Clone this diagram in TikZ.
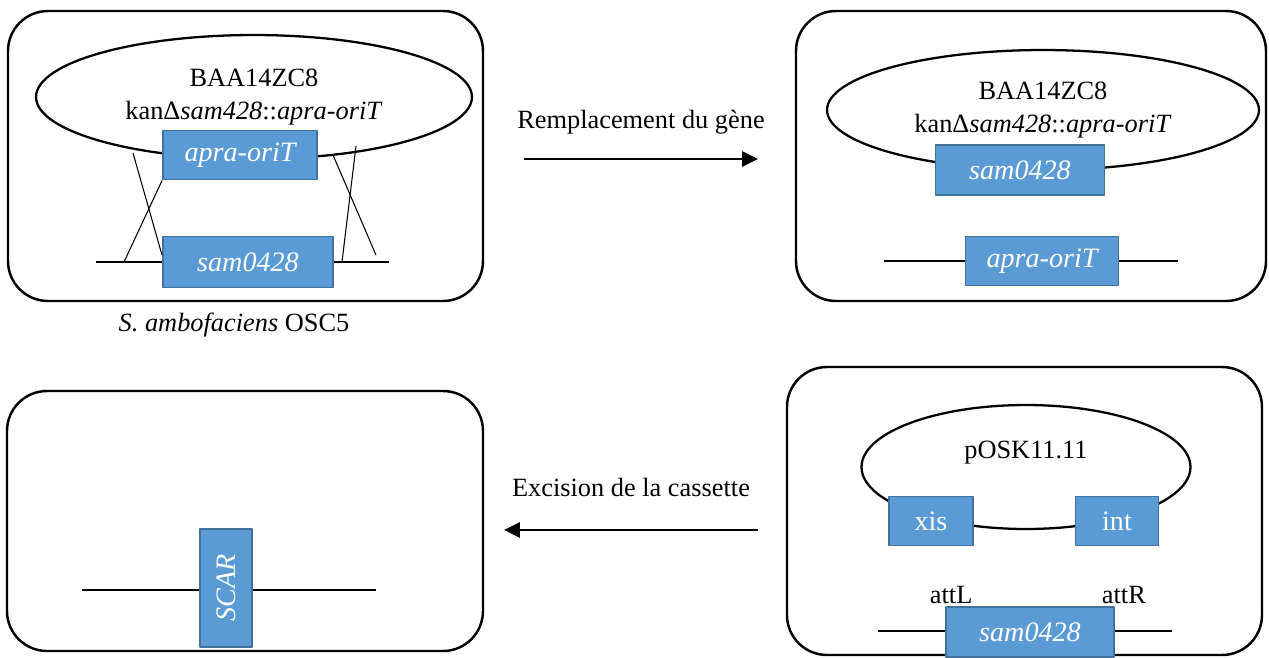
\documentclass[tikz,border=0pt]{standalone}
\usepackage{fontspec}
\setmainfont{Liberation Serif}[ItalicFont={Liberation Serif Italic}]
\usepackage{xcolor}
\usepackage{tikz}
\usetikzlibrary{arrows.meta,shapes.geometric,positioning}

\definecolor{genefill}{HTML}{5B9BD5}
\definecolor{genedraw}{HTML}{41719C}

\tikzset{
  cell/.style={draw, line width=1.4pt, rounded corners=0.8cm},
  plasmid/.style={draw, ellipse, line width=1.3pt, inner sep=0pt, align=center},
  gene/.style={draw=genedraw, fill=genefill, line width=1pt, text=white, inner sep=0pt,
    font=\fontsize{16}{19}\selectfont\itshape},
  dna/.style={line width=0.6pt},
  flow/.style={line width=1.4pt, -{Triangle[length=9pt,width=8.5pt]}}
}

\begin{document}
\begin{tikzpicture}[x=0.02cm, y=-0.02cm, line join=round, font=\fontsize{15}{18.5}\selectfont]
\useasboundingbox (0,0) rectangle (1269,657);
% the four cells
\draw[cell] (8,11) rectangle (483,301);
\draw[cell] (796,11) rectangle (1266,301);
\draw[cell] (787,367) rectangle (1262,655);
\draw[cell] (7,391) rectangle (483,651);

% Cell A - double crossing-over
\node[plasmid, minimum width=8.72cm, minimum height=2.48cm] (bacA) at (254,97)
  {BAA14ZC8\\kanΔ\textit{sam428}::\textit{apra-oriT}};
\coordinate (lA) at (96,262);
\coordinate (rA) at (389,262);
\node[gene, minimum width=3.08cm, minimum height=0.98cm] (aoA) at (240,155) {apra-oriT};
\node[gene, minimum width=3.4cm, minimum height=1.02cm] (samA) at (248,262) {sam0428};
\draw[dna] (lA) -- (lA -| samA.west);
\draw[dna] (rA -| samA.east) -- (rA);
% crossing lines
\coordinate (xa1) at (133,153);
\coordinate (xa2) at (162,255);
\coordinate (xa3) at (124,262);
\coordinate (xb1) at (356,146);
\coordinate (xb2) at (342,262);
\coordinate (xb3) at (333,155);
\coordinate (xb4) at (376,255);
\draw[dna] (xa1) -- (xa2);
\draw[dna] (xa3) -- (aoA.south west);
\draw[dna] (xb1) -- (xb2);
\draw[dna] (xb3) -- (xb4);
\node (osc) at (234,325) {\textit{S. ambofaciens} OSC5};

% Cell B - replaced gene
\node[plasmid, minimum width=8.64cm, minimum height=2.4cm] (bacB) at (1043,110)
  {BAA14ZC8\\kanΔ\textit{sam428}::\textit{apra-oriT}};
\node[gene, minimum width=3.38cm, minimum height=1cm] (samB) at (1020,170) {sam0428};
\coordinate (lB) at (884,261);
\coordinate (rB) at (1178,261);
\node[gene, minimum width=3.06cm, minimum height=0.98cm] (aoB) at (1042,261) {apra-oriT};
\draw[dna] (lB) -- (lB -| aoB.west);
\draw[dna] (rB -| aoB.east) -- (rB);

% Cell D - pOSK11.11
\node[plasmid, minimum width=6.58cm, minimum height=2.48cm] (posk) at (1026,467) {};
\node (poskname) at (1026,453) {pOSK11.11};
\node[gene, minimum width=1.68cm, minimum height=0.98cm] (xis) at (931,521) {\upshape xis};
\node[gene, minimum width=1.66cm, minimum height=0.98cm] (int) at (1117,521) {\upshape int};
\coordinate (lD) at (878,631);
\coordinate (rD) at (1172,631);
\node[gene, minimum width=3.36cm, minimum height=1cm] (samD) at (1030,632) {sam0428};
\draw[dna] (lD) -- (lD -| samD.west);
\draw[dna] (rD -| samD.east) -- (rD);
\node[anchor=south, inner sep=1pt] (attL) at ([xshift=0.12cm]samD.north west) {attL};
\node[anchor=south, inner sep=1pt] (attR) at ([xshift=0.18cm]samD.north east) {attR};

% Cell C - scar
\coordinate (lC) at (82,590);
\coordinate (rC) at (376,590);
\node[gene, minimum width=2.36cm, minimum height=1.04cm, rotate=90] (scar) at (226,588) {SCAR};
\draw[dna] (lC) -- (lC -| scar.north);
\draw[dna] (rC -| scar.south) -- (rC);

% steps
\coordinate (r1) at (524,159);
\coordinate (r2) at (758,159);
\draw[flow] (r1) -- node[midway, yshift=21pt] (repl) {Remplacement du gène} (r2);
\coordinate (e1) at (758,530);
\coordinate (e2) at (504,530);
\draw[flow] (e1) -- node[midway, yshift=24pt] (exc) {Excision de la cassette} (e2);
\end{tikzpicture}
\end{document}
